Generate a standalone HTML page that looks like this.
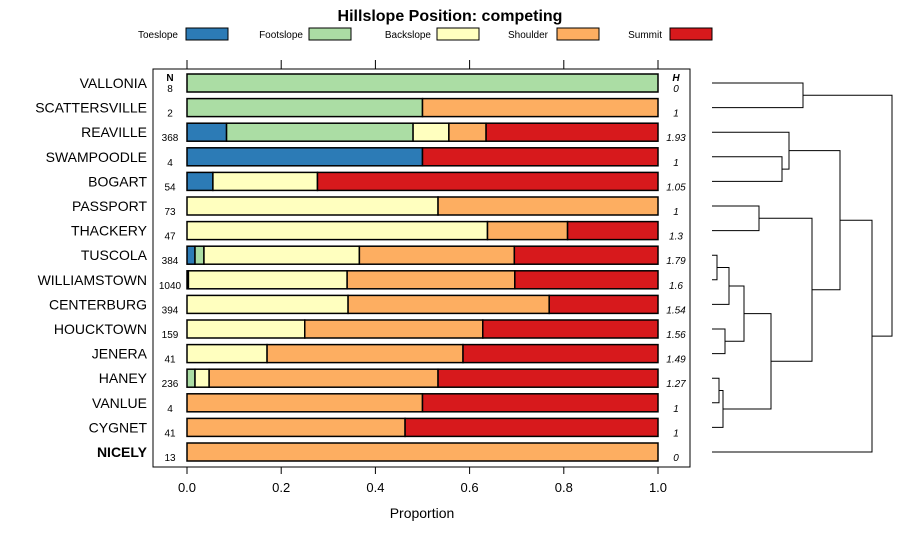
<!DOCTYPE html>
<html><head><meta charset="utf-8"><style>
body{margin:0;background:#fff;}
svg{font-family:"Liberation Sans",sans-serif;}
</style></head><body>
<svg id="c" width="900" height="540"></svg>
<script>
const sites=["VALLONIA","SCATTERSVILLE","REAVILLE","SWAMPOODLE","BOGART","PASSPORT","THACKERY","TUSCOLA","WILLIAMSTOWN","CENTERBURG","HOUCKTOWN","JENERA","HANEY","VANLUE","CYGNET","NICELY"];
const nVals=[8,2,368,4,54,73,47,384,1040,394,159,41,236,4,41,13];
const hVals=["0","1","1.93","1","1.05","1","1.3","1.79","1.6","1.54","1.56","1.49","1.27","1","1","0"];
const toeslope=[0,0,0.084,0.5,0.055,0,0,0.017,0.003,0,0,0,0,0,0,0];
const footslope=[1,0.5,0.396,0,0,0,0,0.019,0,0,0,0,0.017,0,0,0];
const backslope=[0,0,0.076,0,0.222,0.533,0.638,0.33,0.337,0.342,0.25,0.17,0.03,0,0,0];
const shoulder=[0,0.5,0.079,0,0,0.467,0.17,0.329,0.356,0.427,0.378,0.416,0.486,0.5,0.463,1];
const summit=[0,0,0.365,0.5,0.723,0,0.192,0.305,0.304,0.231,0.372,0.414,0.467,0.5,0.537,0];
const classes=["Toeslope","Footslope","Backslope","Shoulder","Summit"];
const colors=["#2c7bb6","#abdda4","#ffffbf","#fdae61","#d7191c"];
const ticks=[0,0.2,0.4,0.6,0.8,1.0];
// dendrogram merges: [left,right,height]; negative = leaf index, positive = merge id (1-based)
const merges=[[-0,-1,91],[-3,-4,70],[-2,2,77],[-5,-6,47],[-7,-8,5],[5,-9,17],[-10,-11,13],[6,7,32],[-12,-13,7],[9,-14,11],[8,10,59],[4,11,100],[3,12,128],[13,-15,160],[1,14,180]];

const S=document.getElementById('c');const NS="http://www.w3.org/2000/svg";
function el(t,a,p){const e=document.createElementNS(NS,t);for(const k in a)e.setAttribute(k,a[k]);(p||S).appendChild(e);return e;}
const x0=187,x1=658;const X=v=>x0+v*(x1-x0);
const Y=i=>83+i*24.6;
let t=el('text',{x:450,y:21,'text-anchor':'middle','font-size':16,'font-weight':'bold'});t.textContent="Hillslope Position: competing";

const lx=[[178,186],[303,309],[431,437],[548,557],[662,670]];
classes.forEach((c,i)=>{const g=el('g',{});


const tx=el('text',{x:lx[i][0],y:38,'text-anchor':'end','font-size':10},g);tx.textContent=c;
el('rect',{x:lx[i][1],y:28,width:42,height:12,fill:colors[i],stroke:'#000','stroke-width':1},g);});
const box=el('rect',{x:153,y:69,width:537,height:398,fill:'none',stroke:'#000','stroke-width':1});

ticks.forEach(v=>{el('line',{x1:X(v),x2:X(v),y1:60,y2:69,stroke:'#000'});el('line',{x1:X(v),x2:X(v),y1:467,y2:474,stroke:'#000'});
const tl=el('text',{x:X(v),y:492,'text-anchor':'middle','font-size':13});tl.textContent=v.toFixed(1);
});
t=el('text',{x:422,y:518,'text-anchor':'middle','font-size':14});t.textContent="Proportion";

t=el('text',{x:170,y:81,'text-anchor':'middle','font-size':10,'font-weight':'bold'});t.textContent="N";

t=el('text',{x:676,y:81,'text-anchor':'middle','font-size':10,'font-weight':'bold','font-style':'italic'});t.textContent="H";

const series=[toeslope,footslope,backslope,shoulder,summit];
sites.forEach((s,i)=>{const y=Y(i);
const lab=el('text',{x:147,y:y+5,'text-anchor':'end','font-size':14,'font-weight':s==="NICELY"?'bold':'normal'});lab.textContent=s;

const n=el('text',{x:170,y:y+9,'text-anchor':'middle','font-size':10});n.textContent=nVals[i];

const h=el('text',{x:676,y:y+9,'text-anchor':'middle','font-size':10,'font-style':'italic'});h.textContent=hVals[i];

let c=0;series.forEach((arr,k)=>{const v=arr[i];if(v<=0)return;
const r=el('rect',{x:X(c),y:y-9,width:X(c+v)-X(c),height:18,fill:colors[k],stroke:'#000','stroke-width':1.5});
c+=v;});});
// dendrogram
const leafX=712;const nodes=[];
function pos(r){if(r<=0||Object.is(r,-0))return {x:leafX,y:Y(-r)};return nodes[r-1];}
merges.forEach(m=>{const a=pos(m[0]),b=pos(m[1]);const hx=leafX+m[2];
const p=el('path',{d:`M${a.x},${a.y}H${hx}V${b.y}H${b.x}`,fill:'none',stroke:'#000','stroke-width':1});

nodes.push({x:hx,y:(a.y+b.y)/2});});
</script>
</body></html>
